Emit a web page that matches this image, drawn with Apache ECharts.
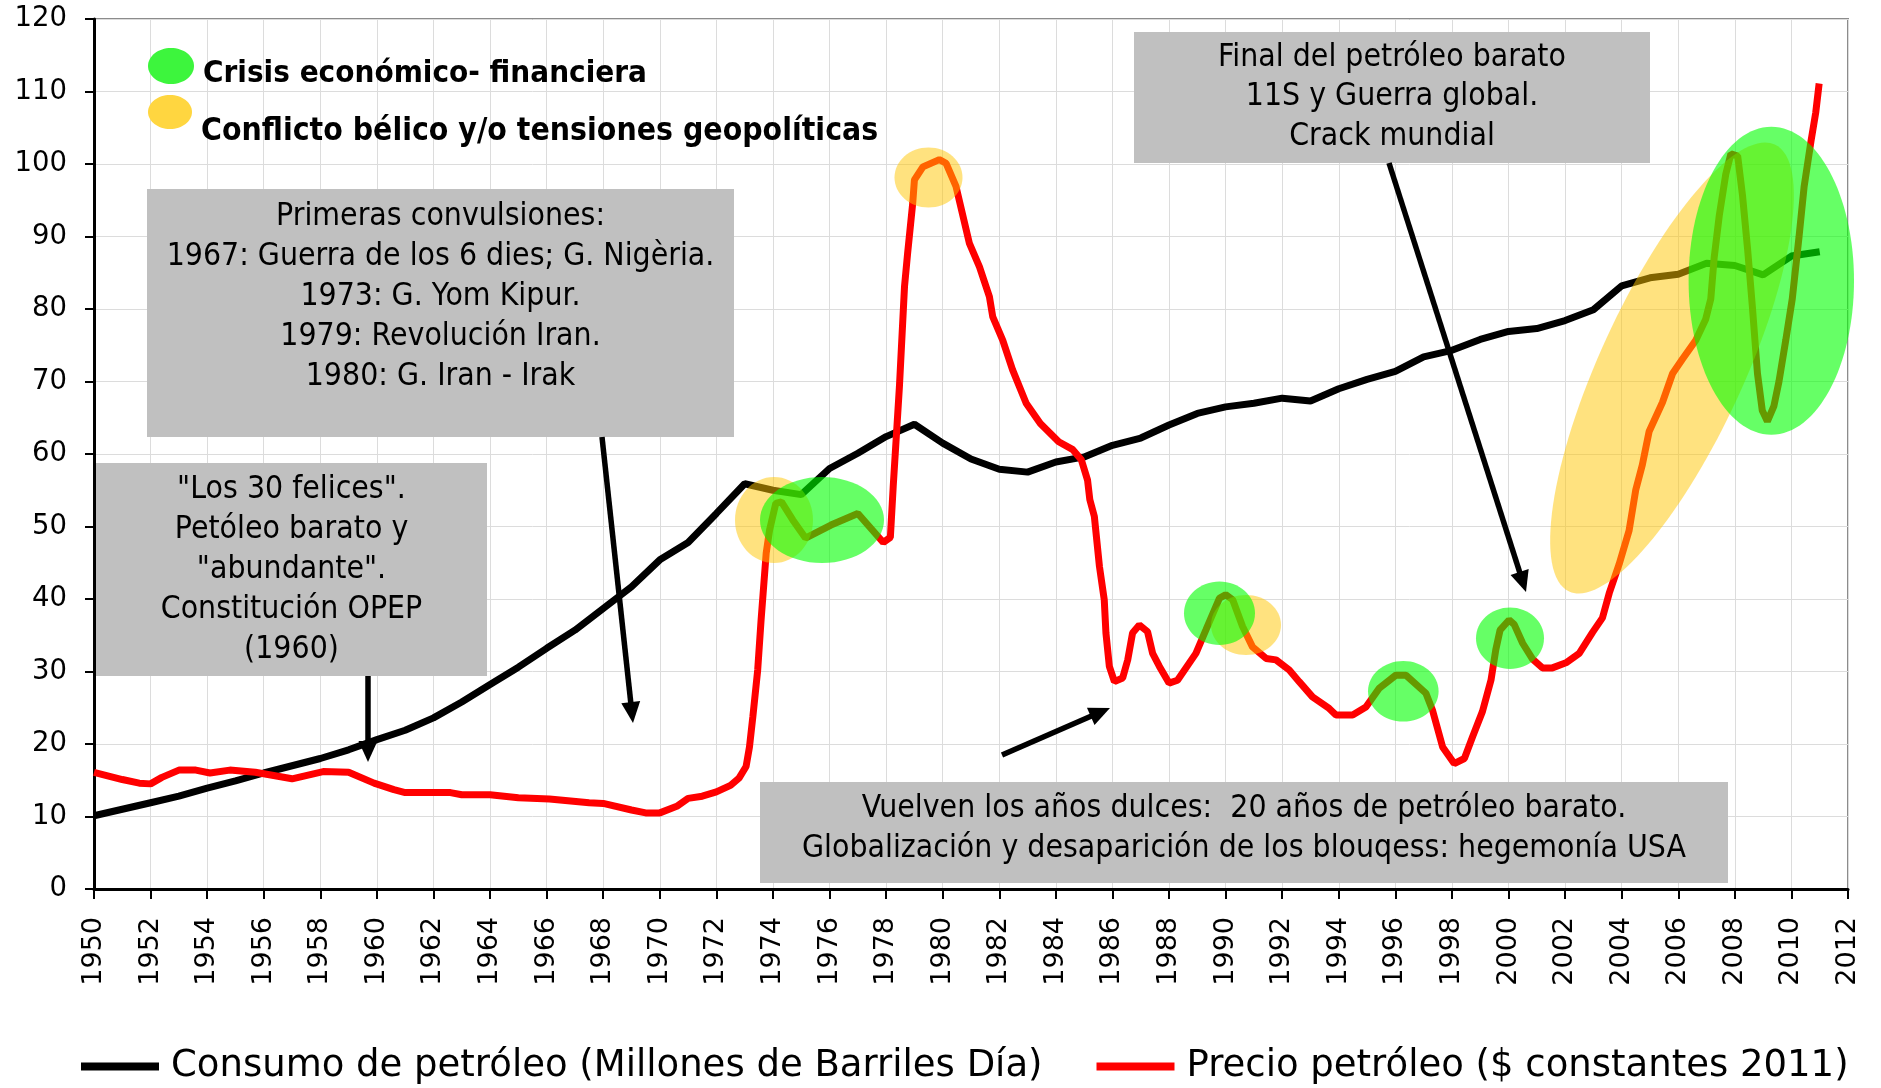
<!DOCTYPE html>
<html><head><meta charset="utf-8">
<script src="https://cdn.jsdelivr.net/npm/echarts@6.0.0/dist/echarts.min.js"></script>
<style>html,body{margin:0;padding:0;background:#fff}#c{width:1881px;height:1088px}</style>
</head><body><div id="c"></div>
<script>
// ---------------- DATA ----------------
const years = [1950,1951,1952,1953,1954,1955,1956,1957,1958,1959,1960,1961,1962,1963,1964,1965,1966,1967,1968,1969,
  1970,1971,1972,1973,1974,1975,1976,1977,1978,1979,1980,1981,1982,1983,1984,1985,1986,1987,1988,1989,
  1990,1991,1992,1993,1994,1995,1996,1997,1998,1999,2000,2001,2002,2003,2004,2005,2006,2007,2008,2009,2010,2011];
const consumo = [10.1,11.0,11.9,12.8,13.9,14.9,16.0,17.0,18.0,19.2,20.6,21.9,23.6,25.8,28.2,30.6,33.2,35.7,38.7,41.7,
  45.4,47.8,51.8,55.9,55.0,54.4,58.0,60.1,62.4,64.1,61.5,59.3,57.9,57.5,58.9,59.6,61.2,62.2,64.0,65.6,
  66.5,67.0,67.7,67.3,69.0,70.3,71.4,73.4,74.3,75.8,76.9,77.3,78.4,79.9,83.2,84.3,84.8,86.3,86.0,84.7,87.3,87.9];
const precioX = [1950.0,1951.0,1951.6,1952.0,1952.4,1953.0,1953.6,1954.1,1954.8,1955.7,1957.0,1958.1,1959.0,1959.9,1960.6,1961.0,1962.6,1963.0,1964.0,1965.0,
  1966.1,1967.5,1968.0,1969.0,1969.5,1970.0,1970.6,1971.0,1971.5,1972.0,1972.5,1972.8,1973.05,1973.17,1973.29,1973.46,1973.58,1973.76,1973.88,1974.1,
  1974.3,1974.7,1975.15,1976.05,1977.0,1977.9,1978.15,1978.25,1978.47,1978.65,1978.76,1978.94,1979.0,1979.3,1979.88,1980.12,1980.47,1980.94,1981.3,1981.65,
  1981.77,1982.12,1982.47,1982.95,1983.45,1984.1,1984.6,1984.9,1985.12,1985.2,1985.36,1985.54,1985.71,1985.77,1985.89,1986.07,1986.36,1986.54,1986.71,1986.95,
  1987.24,1987.42,1987.66,1988.0,1988.3,1988.95,1989.3,1989.78,1990.0,1990.25,1990.6,1990.95,1991.43,1991.78,1992.25,1992.6,1993.07,1993.66,1993.9,1994.49,
  1994.96,1995.43,1996.02,1996.37,1997.08,1997.31,1997.67,1998.08,1998.44,1998.73,1999.08,1999.38,1999.55,1999.7,2000.02,2000.2,2000.5,2000.85,2001.2,2001.55,
  2002.03,2002.5,2002.97,2003.32,2003.56,2003.91,2004.26,2004.5,2004.73,2004.97,2005.44,2005.8,2006.15,2006.62,2006.97,2007.15,2007.27,2007.45,2007.68,2007.86,
  2008.1,2008.27,2008.45,2008.62,2008.8,2008.97,2009.15,2009.38,2009.56,2009.8,2010.03,2010.27,2010.45,2010.69,2010.86,2010.98];
const precioY = [16.1,15.1,14.6,14.5,15.4,16.4,16.4,16.0,16.4,16.1,15.2,16.2,16.1,14.6,13.7,13.3,13.3,13.0,13.0,12.6,
  12.4,11.9,11.8,10.9,10.5,10.5,11.4,12.5,12.8,13.4,14.3,15.3,16.9,19.6,23.8,30.2,37.1,46.3,49.5,53.2,
  53.4,50.9,48.4,50.2,51.8,47.8,48.5,55.5,69.3,83.1,87.7,94.6,97.8,99.6,100.6,100.1,96.9,89.1,85.8,81.7,
  78.9,75.7,71.6,67.0,64.2,61.7,60.6,59.2,56.4,53.7,51.4,44.5,39.9,35.3,30.7,28.6,29.1,31.6,35.3,36.4,
  35.5,32.5,30.7,28.4,28.8,32.5,35.7,40.1,40.6,39.9,36.2,33.4,31.8,31.6,30.2,28.6,26.5,24.9,24.0,24.0,
  25.1,27.7,29.5,29.5,27.0,24.7,19.6,17.3,18.0,21.0,24.5,28.8,33.0,35.7,37.1,36.5,33.9,31.7,30.5,30.5,
  31.2,32.5,35.4,37.4,40.8,44.8,49.4,55.1,58.5,63.1,67.1,71.1,73.1,75.7,78.6,81.4,87.1,92.9,98.6,101.4,
  101.1,95.7,88.3,80.3,71.1,66.0,64.5,66.6,70.0,75.7,81.4,90.0,96.9,103.1,107.1,111.1];
const seriesNames = ['Consumo de petróleo (Millones de Barriles Día)', 'Precio petróleo ($ constantes 2011)'];
const noteLabels = ['Crisis económico- financiera', 'Conflicto bélico y/o tensiones geopolíticas'];
const boxTexts = [
  'Primeras convulsiones:\n1967: Guerra de los 6 dies; G. Nigèria.\n1973: G. Yom Kipur.\n1979: Revolución Iran.\n1980: G. Iran - Irak',
  '"Los 30 felices".\nPetóleo barato y\n"abundante".\nConstitución OPEP\n(1960)',
  'Final del petróleo barato\n11S y Guerra global.\nCrack mundial',
  'Vuelven los años dulces:  20 años de petróleo barato.\nGlobalización y desaparición de los blouqess: hegemonía USA'
];

// ---------------- LAYOUT / STYLE ----------------
const FONT = '"DejaVu Sans", Verdana, sans-serif';
const GREEN = 'rgba(0,255,0,0.6)';
const YELLOW = 'rgba(255,198,0,0.5)';
const STRETCH = 1.1;
const boxLayout = [
  {x:147, y:189, w:587, h:248, cy:296.6, lh:39.9},
  {x:96,  y:463, w:391, h:213, cy:570,   lh:40},
  {x:1134,y:32,  w:516, h:131, cy:97.2,  lh:39.3},
  {x:760, y:782, w:968, h:101, cy:829.3, lh:40}
];
const ellipses = [
  [774, 520, 39, 43, YELLOW, 0],
  [928.5, 177.5, 34, 30, YELLOW, 0],
  [1246, 625, 35, 30, YELLOW, 0],
  [1672, 368, 246, 72, YELLOW, 65.3],
  [822, 520, 62, 43, GREEN, 0],
  [1219.5, 613.3, 35.5, 31.7, GREEN, 0],
  [1403.3, 691.3, 35.3, 30.3, GREEN, 0],
  [1510, 638.3, 34, 30.7, GREEN, 0],
  [1771.3, 280.7, 82.7, 154, GREEN, 0]
];
const arrows = [
  [368, 676, 368, 762],
  [602, 437, 633, 723],
  [1002, 755, 1110, 708],
  [1389, 163, 1526, 592]
];

const graphics = [];
ellipses.forEach(e => {
  graphics.push({type:'ellipse', x:e[0], y:e[1], rotation:e[5]*Math.PI/180,
    shape:{cx:0, cy:0, rx:e[2], ry:e[3]}, style:{fill:e[4]}, z:10 + (e[4] === GREEN ? 1 : 0), silent:true});
});
boxLayout.forEach((b, i) => {
  graphics.push({type:'rect', shape:{x:b.x, y:b.y, width:b.w, height:b.h}, style:{fill:'#c0c0c0'}, z:20, silent:true});
  graphics.push({type:'text', x:b.x + b.w/2, y:b.cy, scaleY:STRETCH,
    style:{text:boxTexts[i], x:0, y:0, font:'28.5px ' + FONT, fill:'#000',
    textAlign:'center', textVerticalAlign:'middle', lineHeight:b.lh/STRETCH}, z:21, silent:true});
});
arrows.forEach(a => {
  const [x1,y1,x2,y2] = a;
  const dx = x2-x1, dy = y2-y1, L = Math.hypot(dx,dy), ux = dx/L, uy = dy/L, hl = 21, hw = 9.5;
  const bx = x2-ux*hl, by = y2-uy*hl;
  graphics.push({type:'line', shape:{x1, y1, x2:bx+ux*2, y2:by+uy*2}, style:{stroke:'#000', lineWidth:5.5}, z:30, silent:true});
  graphics.push({type:'polygon', shape:{points:[[x2,y2],[bx-uy*hw, by+ux*hw],[bx+uy*hw, by-ux*hw]]}, style:{fill:'#000'}, z:30, silent:true});
});
// custom key (top-left)
graphics.push({type:'ellipse', shape:{cx:171, cy:66, rx:23, ry:18}, style:{fill:'#3df53d'}, z:25, silent:true});
graphics.push({type:'ellipse', shape:{cx:170, cy:112, rx:22, ry:17}, style:{fill:'#ffd640'}, z:25, silent:true});
graphics.push({type:'text', x:203, y:73.5, scaleY:STRETCH, style:{text:noteLabels[0], x:0, y:0, font:'bold 28px ' + FONT, fill:'#000', textAlign:'left', textVerticalAlign:'middle'}, z:25, silent:true});
graphics.push({type:'text', x:201, y:131.8, scaleY:STRETCH, style:{text:noteLabels[1], x:0, y:0, font:'bold 28.5px ' + FONT, fill:'#000', textAlign:'left', textVerticalAlign:'middle'}, z:25, silent:true});

const chart = echarts.init(document.getElementById('c'), null, {renderer:'canvas'});
chart.setOption({
  animation: false,
  backgroundColor: '#fff',
  grid: {left:94, right:33, top:19, bottom:199, show:true, borderColor:'#8c8c8c', borderWidth:2, containLabel:false, outerBoundsMode:'none'},
  legend: {
    data: seriesNames, left: 81, top: 1048, padding: 0, icon: 'rect', itemWidth: 78, itemHeight: 8, itemGap: 54,
    textStyle: {fontSize: 37, fontFamily: FONT, color: '#000', padding: [0,0,0,7]}
  },
  xAxis: {
    type: 'value', min: 1950, max: 2012, interval: 2,
    axisLine: {show:true, onZero:false, lineStyle:{color:'#000', width:3}},
    axisTick: {show:true, length:10, lineStyle:{color:'#000', width:2}},
    axisLabel: {rotate: 90, margin: 28, fontSize: 27, fontFamily: FONT, color: '#000', formatter: v => String(v)},
    splitLine: {show:true, lineStyle:{color:'#dcdcdc', width:1}}
  },
  yAxis: {
    type: 'value', min: 0, max: 120, interval: 10,
    axisLine: {show:true, lineStyle:{color:'#000', width:3}},
    axisTick: {show:true, length:9, lineStyle:{color:'#000', width:2}},
    axisLabel: {margin: 27, fontSize: 27.5, fontFamily: FONT, color: '#000'},
    splitLine: {show:true, lineStyle:{color:'#dcdcdc', width:1}}
  },
  series: [
    {name: seriesNames[0], type:'line', data: years.map((y,i) => [y, consumo[i]]), showSymbol:false, symbol:'none',
      lineStyle:{color:'#000', width:7}, itemStyle:{color:'#000'}, z:2},
    {name: seriesNames[1], type:'line', data: precioX.map((x,i) => [x, precioY[i]]), showSymbol:false, symbol:'none',
      lineStyle:{color:'#ff0000', width:7}, itemStyle:{color:'#ff0000'}, z:3}
  ],
  graphic: {elements: graphics}
});
</script></body></html>
